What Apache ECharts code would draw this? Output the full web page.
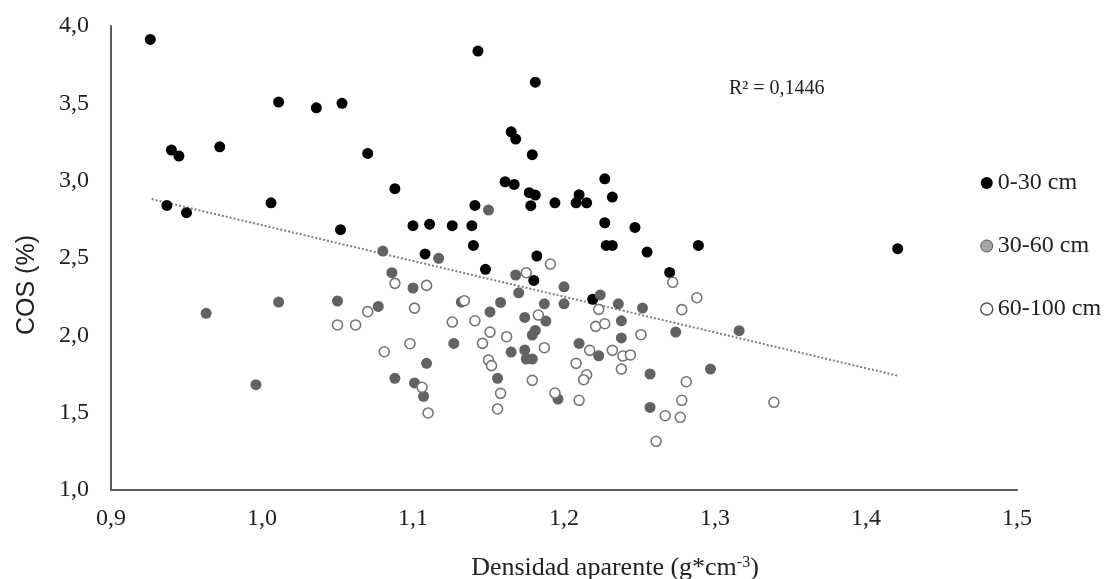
<!DOCTYPE html>
<html><head><meta charset="utf-8">
<script src="https://cdn.jsdelivr.net/npm/echarts@6/dist/echarts.min.js"></script>
<style>html,body{margin:0;padding:0;background:#fff}#c{width:1110px;height:579px}</style>
</head><body><div id="c"></div>
<script>
const seriesNames = ['0-30 cm', '30-60 cm', '60-100 cm'];
const xTicks = [0.9, 1.0, 1.1, 1.2, 1.3, 1.4, 1.5];
const xTickLabels = ['0,9', '1,0', '1,1', '1,2', '1,3', '1,4', '1,5'];
const yTicks = [1.0, 1.5, 2.0, 2.5, 3.0, 3.5, 4.0];
const yTickLabels = ['1,0', '1,5', '2,0', '2,5', '3,0', '3,5', '4,0'];
const r2Label = 'R² = 0,1446';
const yTitle = 'COS (%)';

const depth0_30 = [
[0.926,3.913],[1.011,3.508],[1.036,3.471],[1.053,3.500],[0.940,3.198],[0.945,3.159],[0.972,3.219],[1.070,3.176],[1.088,2.948],[0.937,2.840],[0.950,2.793],[1.006,2.857],[1.052,2.683],
[1.143,3.838],[1.181,3.637],[1.165,3.316],[1.168,3.269],[1.179,3.168],[1.161,2.993],[1.167,2.976],[1.177,2.922],[1.181,2.907],[1.178,2.838],[1.141,2.840],[1.194,2.857],[1.210,2.909],[1.208,2.857],[1.215,2.857],[1.227,3.012],[1.232,2.894],[1.100,2.709],[1.111,2.719],[1.126,2.709],[1.139,2.709],[1.227,2.728],[1.247,2.698],[1.140,2.581],[1.228,2.581],[1.232,2.581],[1.255,2.538],[1.289,2.581],[1.108,2.526],[1.182,2.513],
[1.421,2.560],[1.148,2.427],[1.180,2.355],[1.270,2.407],[1.219,2.233]
];
const depth30_60 = [
[1.080,2.545],[1.150,2.810],[1.117,2.498],[1.086,2.405],[0.963,2.142],[1.011,2.215],[1.050,2.222],[1.077,2.187],[0.996,1.681],[1.088,1.722],
[1.100,2.306],[1.132,2.215],[1.168,2.390],[1.170,2.275],[1.158,2.213],[1.151,2.151],[1.200,2.314],[1.187,2.204],[1.200,2.204],[1.224,2.261],[1.236,2.204],[1.252,2.176],[1.174,2.116],[1.188,2.092],[1.181,2.032],[1.179,2.002],[1.238,2.094],[1.238,1.983],[1.274,2.021],[1.127,1.948],[1.109,1.819],[1.165,1.892],[1.174,1.905],[1.175,1.847],[1.179,1.847],[1.210,1.948],[1.223,1.868],[1.156,1.722],[1.101,1.692],[1.107,1.606],[1.196,1.588],[1.257,1.750],[1.257,1.534],[1.316,2.030],[1.297,1.782]
];
const depth60_100 = [
[1.088,2.336],[1.070,2.153],[1.050,2.067],[1.062,2.067],[1.081,1.894],
[1.109,2.323],[1.101,2.176],[1.134,2.224],[1.126,2.086],[1.141,2.094],[1.151,2.021],[1.162,1.991],[1.146,1.948],[1.098,1.946],[1.150,1.840],[1.152,1.804],[1.175,2.405],[1.191,2.461],[1.183,2.131],[1.187,1.920],[1.223,2.168],[1.221,2.058],[1.227,2.075],[1.272,2.343],[1.278,2.166],[1.288,2.243],[1.251,2.004],[1.208,1.819],[1.217,1.903],[1.232,1.903],[1.239,1.866],[1.244,1.873],[1.238,1.782],[1.215,1.745],[1.213,1.713],[1.179,1.709],[1.106,1.664],[1.158,1.625],[1.194,1.627],[1.210,1.580],[1.110,1.498],[1.156,1.524],[1.281,1.700],[1.278,1.580],[1.267,1.480],[1.277,1.470],[1.261,1.315],[1.339,1.567]
];
const trendLine = [[0.927,2.881],[1.421,1.739]];

function lab(ticks, labels, v){
  for (let i=0;i<ticks.length;i++){ if (Math.abs(ticks[i]-v)<1e-6) return labels[i]; }
  return '';
}
const serif = 'Liberation Serif';
const chart = echarts.init(document.getElementById('c'), null, {renderer:'canvas'});
chart.setOption({
  animation:false,
  backgroundColor:'#fff',
  grid:{left:111, right:93, top:26, bottom:89, containLabel:false},
  title:{
    text:'Densidad aparente (g*cm{sup|-3})',
    left:610, top:550, textAlign:'center',
    textStyle:{fontFamily:serif, fontSize:26, fontWeight:'normal', color:'#222',
      rich:{sup:{fontFamily:serif, fontSize:16, verticalAlign:'top', padding:[0,0,10,0], color:'#222'}}}
  },
  xAxis:{type:'value', min:0.9, max:1.5, interval:0.1,
    axisLine:{show:true, lineStyle:{color:'#595959', width:2}},
    axisTick:{show:false}, splitLine:{show:false},
    axisLabel:{margin:17, fontFamily:serif, fontSize:24, color:'#222',
      formatter:v=>lab(xTicks,xTickLabels,v)}},
  yAxis:{type:'value', min:1, max:4, interval:0.5,
    axisLine:{show:true, lineStyle:{color:'#595959', width:2}},
    axisTick:{show:false}, splitLine:{show:false},
    axisLabel:{margin:22, fontFamily:serif, fontSize:24, color:'#222',
      formatter:v=>lab(yTicks,yTickLabels,v)}},
  legend:{orient:'vertical', left:975, top:166, itemGap:39, itemWidth:12, itemHeight:12, itemTextGap:7,
    icon:'circle',
    textStyle:{fontFamily:serif, fontSize:24, color:'#222'},
    data:[
      {name:seriesNames[0], itemStyle:{color:'#000', borderWidth:0}},
      {name:seriesNames[1], itemStyle:{color:'#a6a6a6', borderColor:'#595959', borderWidth:1}},
      {name:seriesNames[2], itemStyle:{color:'#fff', borderColor:'#595959', borderWidth:1.5}}
    ]},
  graphic:[
    {type:'text', left:729, top:79, style:{text:r2Label, font:'20px "Liberation Serif"', fill:'#222'}},
    {type:'text', x:27, y:285, rotation:Math.PI/2,
      style:{text:yTitle, font:'25px "Liberation Sans"', fill:'#222', align:'center', verticalAlign:'middle'}}
  ],
  series:[
    {name:seriesNames[0], type:'scatter', data:depth0_30, symbolSize:11,
      itemStyle:{color:'#000', opacity:1}},
    {name:seriesNames[1], type:'scatter', data:depth30_60, symbolSize:11,
      itemStyle:{color:'#626262', opacity:1}},
    {name:seriesNames[2], type:'scatter', data:depth60_100, symbolSize:10,
      itemStyle:{color:'#fff', borderColor:'#767676', borderWidth:1.6, opacity:1}},
    {name:'trend', type:'line', data:trendLine, symbol:'none', silent:true,
      lineStyle:{color:'#7f7f7f', width:2, type:[2,2]}, z:1}
  ]
});
</script></body></html>
